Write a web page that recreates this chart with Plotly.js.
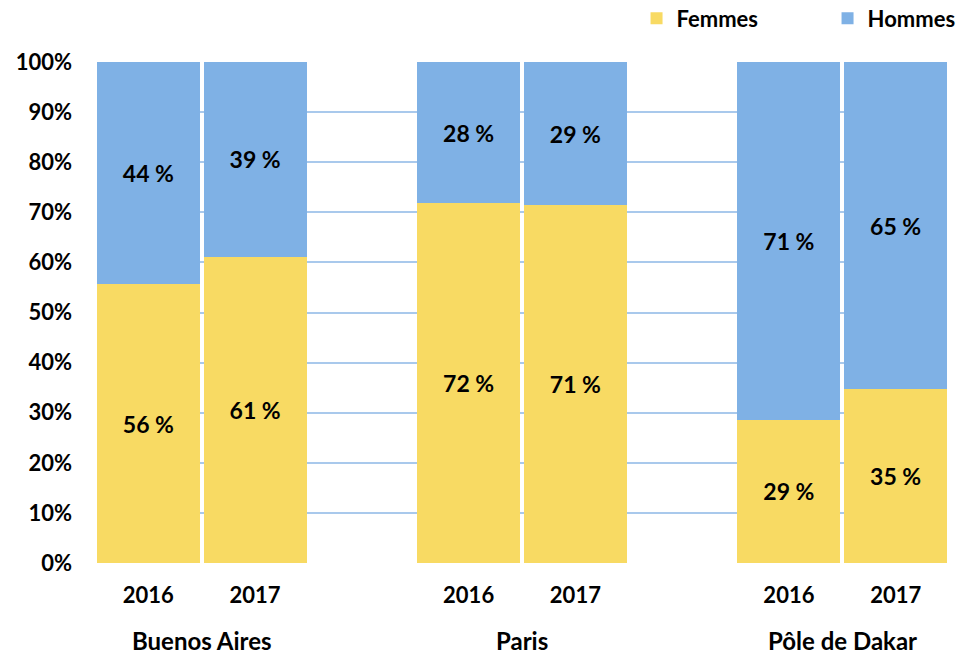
<!DOCTYPE html>
<html>
<head>
<meta charset="utf-8">
<script src="https://cdn.plot.ly/plotly-3.0.1.min.js"></script>
<style>html,body{margin:0;padding:0;background:#fff;}#chart{width:963px;height:656px;}</style>
</head>
<body>
<div id="chart"></div>
<script>
const groups = ["Buenos Aires", "Paris", "Pôle de Dakar"];
const years = ["2016", "2017", "2016", "2017", "2016", "2017"];
const barPos = [0, 1, 3, 4, 6, 7];
const groupPos = [0.5, 3.5, 6.5];
const femmes = [55.6, 61.1, 71.8, 71.4, 28.6, 34.7];
const hommes = [44.4, 38.9, 28.2, 28.6, 71.4, 65.3];
const yTicks = [0, 10, 20, 30, 40, 50, 60, 70, 80, 90, 100];

const FONT = "Lato, 'Open Sans', sans-serif";
const fmt = v => Math.round(v) + " %";

const traces = [
  {
    type: "bar", name: "Femmes", x: barPos, y: femmes,
    text: femmes.map(fmt), textposition: "inside", insidetextanchor: "middle",
    textfont: {family: FONT, size: 23, color: "#000", weight: "bold"},
    marker: {color: "#F8DA63"}, width: 0.963, hoverinfo: "skip"
  },
  {
    type: "bar", name: "Hommes", x: barPos, y: hommes,
    text: hommes.map(fmt), textposition: "inside", insidetextanchor: "middle",
    textfont: {family: FONT, size: 23, color: "#000", weight: "bold"},
    marker: {color: "#7FB1E5"}, width: 0.963, hoverinfo: "skip"
  }
];

const annotations = groups.map((g, i) => ({
  x: groupPos[i], xref: "x", y: 0, yref: "paper", yshift: -77,
  text: g, showarrow: false, yanchor: "middle",
  font: {family: FONT, size: 24, color: "#000", weight: "bold"}
}));

const layout = {
  width: 963, height: 656,
  margin: {l: 97, r: 16, t: 62, b: 93, autoexpand: false},
  paper_bgcolor: "#fff", plot_bgcolor: "#fff",
  barmode: "stack", bargap: 0,
  font: {family: FONT, color: "#000"},
  xaxis: {
    range: [-0.481, 7.481], tickvals: barPos, ticktext: years,
    showgrid: false, zeroline: false, showline: false, ticks: "",
    tickfont: {family: FONT, size: 22, color: "#000", weight: "bold"},
    ticklabelstandoff: 17, fixedrange: true, automargin: false
  },
  yaxis: {
    range: [0, 100], tickvals: yTicks,
    ticktext: yTicks.map(v => v + "%"),
    showgrid: true, gridcolor: "#A9C9EC", gridwidth: 2, zeroline: false,
    showline: false, ticks: "",
    tickfont: {family: FONT, size: 22, color: "#000", weight: "bold"},
    ticklabelstandoff: 24, fixedrange: true, automargin: false
  },
  showlegend: true,
  legend: {
    orientation: "h", xref: "container", yref: "container",
    x: 0.661, xanchor: "left", y: 0.972, yanchor: "middle",
    font: {family: FONT, size: 22, color: "#000", weight: "bold"},
    entrywidth: 146, entrywidthmode: "pixels", traceorder: "normal"
  },
  annotations: annotations
};

Plotly.newPlot("chart", traces, layout, {displayModeBar: false, staticPlot: true});
</script>
</body>
</html>
